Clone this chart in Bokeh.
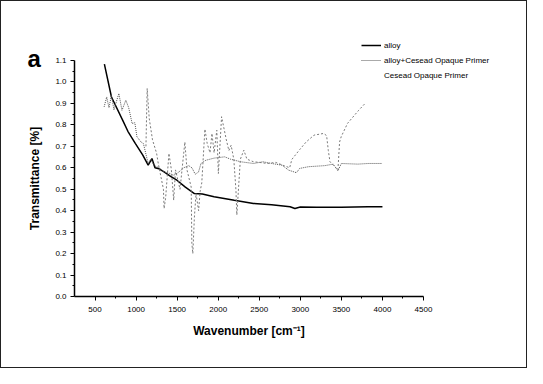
from bokeh.plotting import figure
from bokeh.models import Legend, LegendItem, Range1d, FixedTicker, Label
from bokeh.embed import file_html
from bokeh.resources import INLINE

# ---- data ----
alloy_x = [614, 700, 836, 900, 992, 1080, 1147, 1193, 1230, 1280, 1341, 1420, 1497, 1600, 1710, 1807,
           1950, 2196, 2429, 2650, 2875, 2934, 3000, 3200, 3500, 3825, 4000]
alloy_y = [1.083, 0.93, 0.822, 0.77, 0.713, 0.66, 0.612, 0.643, 0.60, 0.595, 0.581, 0.56, 0.542, 0.51, 0.48,
           0.478, 0.465, 0.449, 0.434, 0.428, 0.418, 0.41, 0.417, 0.416, 0.416, 0.418, 0.418]

mix_x = [611, 642, 670, 700, 730, 790, 828, 875, 910, 952, 985, 1010, 1060, 1089, 1147, 1180, 1220, 1280,
         1340, 1400, 1460, 1520, 1580, 1640, 1680, 1720, 1760, 1790, 1849, 1950, 2079, 2150, 2274, 2429,
         2545, 2650, 2778, 2857, 2953, 2992, 3100, 3300, 3400, 3458, 3500, 3700, 3827, 4000]
mix_y = [0.884, 0.93, 0.88, 0.938, 0.87, 0.946, 0.868, 0.915, 0.88, 0.806, 0.81, 0.745, 0.72, 0.713, 0.62,
         0.64, 0.61, 0.60, 0.58, 0.575, 0.565, 0.58, 0.60, 0.61, 0.60, 0.57, 0.58, 0.62, 0.635, 0.645,
         0.651, 0.64, 0.628, 0.62, 0.628, 0.62, 0.612, 0.589, 0.577, 0.597, 0.605, 0.61, 0.617, 0.586,
         0.62, 0.617, 0.62, 0.62]

primer_x = [1120, 1135, 1160, 1180, 1200, 1232, 1250, 1270, 1333, 1341, 1360, 1400, 1430, 1458, 1480,
            1535, 1594, 1620, 1671, 1679, 1691, 1710, 1730, 1761, 1780, 1800, 1838, 1866, 1900, 1924,
            1950, 1983, 2002, 2041, 2099, 2130, 2157, 2190, 2216, 2227, 2250, 2270, 2312, 2350, 2429,
            2500, 2600, 2700, 2800, 2870, 2897, 2993, 3070, 3167, 3283, 3320, 3341, 3361, 3458, 3478,
            3498, 3575, 3711, 3789]
primer_y = [0.70, 0.97, 0.83, 0.78, 0.73, 0.69, 0.667, 0.62, 0.50, 0.41, 0.46, 0.667, 0.59, 0.449, 0.59,
            0.50, 0.72, 0.59, 0.51, 0.247, 0.20, 0.37, 0.48, 0.40, 0.49, 0.53, 0.78, 0.713, 0.67, 0.76,
            0.67, 0.775, 0.573, 0.838, 0.73, 0.68, 0.705, 0.64, 0.496, 0.38, 0.52, 0.64, 0.682, 0.64,
            0.628, 0.625, 0.62, 0.625, 0.61, 0.60, 0.639, 0.685, 0.72, 0.752, 0.76, 0.75, 0.68, 0.628,
            0.59, 0.72, 0.745, 0.807, 0.868, 0.90]

x_ticks = [500, 1000, 1500, 2000, 2500, 3000, 3500, 4000, 4500]
x_minor = [750, 1250, 1750, 2250, 2750, 3250, 3750, 4250]
y_ticks = [0.0, 0.1, 0.2, 0.3, 0.4, 0.5, 0.6, 0.7, 0.8, 0.9, 1.0, 1.1]
y_minor = [0.05, 0.15, 0.25, 0.35, 0.45, 0.55, 0.65, 0.75, 0.85, 0.95, 1.05]
x_axis_span = (250, 4500)
y_axis_span = (0.0, 1.1)

labels = ["alloy", "alloy+Cesead Opaque Primer", "Cesead Opaque Primer"]

FONT = "Liberation Sans"
W, H = 527, 368
# pixel positions of the axis box inside the figure
AX_L, AX_R, AX_T, AX_B = 73, 422, 59, 295

sx = (x_axis_span[1] - x_axis_span[0]) / (AX_R - AX_L)
sy = (y_axis_span[1] - y_axis_span[0]) / (AX_B - AX_T)
x_range = Range1d(x_axis_span[0] - AX_L * sx, x_axis_span[1] + (W - AX_R) * sx)
y_range = Range1d(y_axis_span[0] - (H - AX_B) * sy, y_axis_span[1] + AX_T * sy)

p = figure(width=W, height=H, output_backend="svg", toolbar_location=None,
           x_range=x_range, y_range=y_range,
           min_border_left=0, min_border_right=0, min_border_top=0, min_border_bottom=0)
p.styles = {"border": "1px solid #222"}
p.outline_line_color = None
p.grid.grid_line_color = None

r_alloy = p.line(alloy_x, alloy_y, line_color="black", line_width=1.5)
r_mix = p.line(mix_x, mix_y, line_color="#555555", line_width=1.0, line_dash="1 1")
r_primer = p.line(primer_x, primer_y, line_color="#7a7a7a", line_width=1.0, line_dash="2 2")
r_dummy = p.line([], [], line_alpha=0)

for ax in (p.xaxis[0], p.yaxis[0]):
    ax.axis_line_width = 1.5
    ax.axis_line_color = "black"
    ax.major_tick_line_color = "black"
    ax.minor_tick_line_color = "black"
    ax.major_tick_in = 0
    ax.major_tick_out = 4
    ax.minor_tick_in = 0
    ax.minor_tick_out = 2
    ax.major_label_text_font = FONT
    ax.major_label_text_font_size = "8px"
    ax.major_label_text_color = "black"
    ax.axis_label_text_font = FONT
    ax.axis_label_text_font_style = "bold"
    ax.axis_label_text_font_size = "12px"
    ax.axis_label_text_color = "black"

p.xaxis.fixed_location = y_axis_span[0]
p.yaxis.fixed_location = x_axis_span[0]
p.xaxis.bounds = x_axis_span
p.yaxis.bounds = y_axis_span
p.xaxis.ticker = FixedTicker(ticks=x_ticks, minor_ticks=x_minor)
p.yaxis.ticker = FixedTicker(ticks=y_ticks, minor_ticks=y_minor)
p.yaxis.major_label_overrides = {t: f"{t:.1f}" for t in y_ticks}
p.xaxis.axis_label = "Wavenumber [cm\u207b\u00b9]"
p.yaxis.axis_label = "Transmittance [%]"
p.xaxis.axis_label_standoff = 9
p.yaxis.axis_label_standoff = 10
p.xaxis.major_label_standoff = 6
p.yaxis.major_label_standoff = 4

legend = Legend(items=[LegendItem(label=labels[0], renderers=[r_alloy]),
                       LegendItem(label=labels[1], renderers=[r_mix]),
                       LegendItem(label=labels[2], renderers=[r_dummy])],
                location=(360, 288), background_fill_alpha=0, border_line_color=None,
                label_text_font=FONT, label_text_font_size="8px", label_text_color="black",
                glyph_width=20, glyph_height=12, spacing=3, padding=0, margin=0,
                label_standoff=3, label_height=12)
p.add_layout(legend, "center")

p.add_layout(Label(x=26, y=298, x_units="screen", y_units="screen", text="a",
                   text_font=FONT, text_font_style="bold", text_font_size="24px",
                   text_color="black"))

open("out.html", "w").write(file_html(p, INLINE))
